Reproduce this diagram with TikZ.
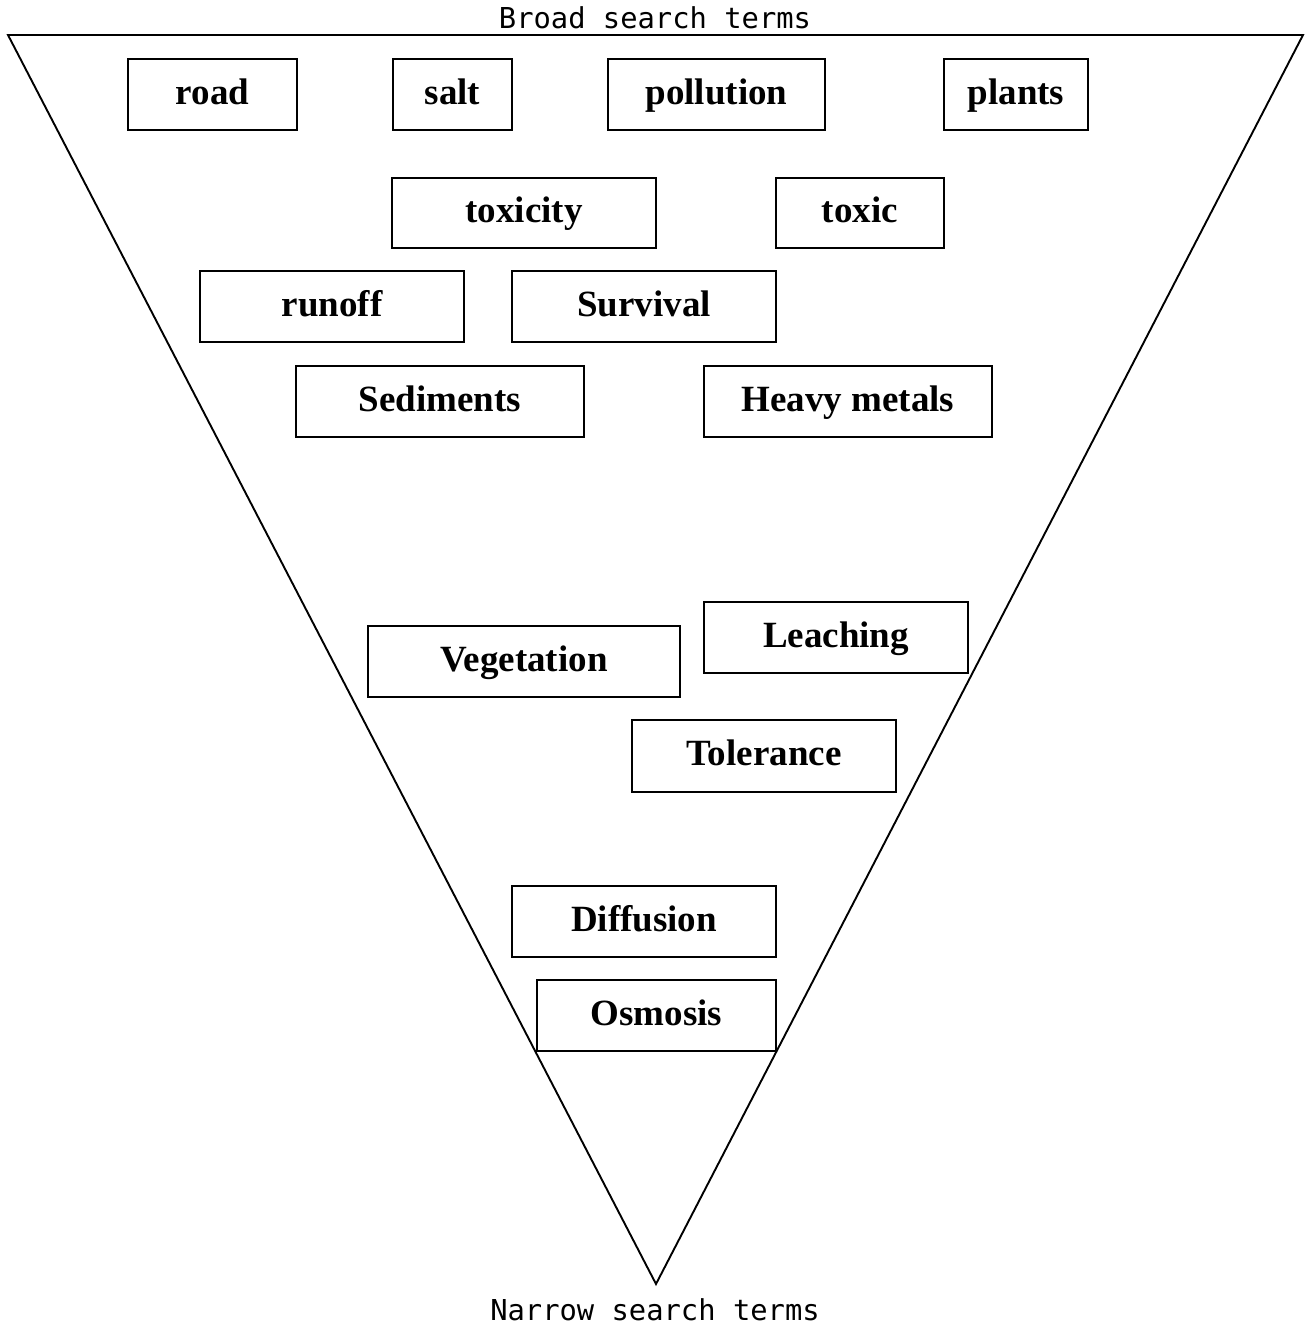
\documentclass[tikz,border=0pt]{standalone}
\usepackage{fontspec}
\setmainfont{Liberation Serif}
\newfontfamily\monofnt{DejaVu Sans Mono}
\tikzset{
  term/.style={draw=black, fill=white, line width=1.9pt, inner sep=0pt, font=\bfseries\fontsize{37}{40}\selectfont, text height=27pt, text depth=8pt, align=center},
  funnel/.style={draw=black, line width=1.9pt},
  lbl/.style={font=\monofnt\fontsize{28.8}{32}\selectfont, inner sep=0pt, anchor=base}
}
\newcommand{\bx}[6]{%
  \node[term, minimum width={(#4-#2)*1pt}, minimum height={(#5-#3)*1pt}] (#1) at ({(#2+#4)/2},{(#3+#5)/2}) {#6};}
\begin{document}
\begin{tikzpicture}[x=1pt,y=-1pt]
\useasboundingbox (0,0) rectangle (1307,1328);
\coordinate (tl) at (8,35);
\coordinate (tr) at (1303,35);
\coordinate (apex) at (656,1284);
\draw[funnel] (tl) -- (tr) -- (apex) -- cycle;
\node[lbl] (broad) at (655,28) {Broad search terms};
\node[lbl] (narrow) at (655,1320) {Narrow search terms};
\bx{road}{128}{59}{297}{130}{road}
\bx{salt}{393}{59}{512}{130}{salt}
\bx{pollution}{608}{59}{825}{130}{pollution}
\bx{plants}{944}{59}{1088}{130}{plants}
\bx{toxicity}{392}{178}{656}{248}{toxicity}
\bx{toxic}{776}{178}{944}{248}{toxic}
\bx{runoff}{200}{271}{464}{342}{runoff}
\bx{survival}{512}{271}{776}{342}{Survival}
\bx{sediments}{296}{366}{584}{437}{Sediments}
\bx{heavy}{704}{366}{992}{437}{Heavy metals}
\bx{vegetation}{368}{626}{680}{697}{Vegetation}
\bx{leaching}{704}{602}{968}{673}{Leaching}
\bx{tolerance}{632}{720}{896}{792}{Tolerance}
\bx{diffusion}{512}{886}{776}{957}{Diffusion}
\bx{osmosis}{537}{980}{776}{1051}{Osmosis}
\end{tikzpicture}
\end{document}
